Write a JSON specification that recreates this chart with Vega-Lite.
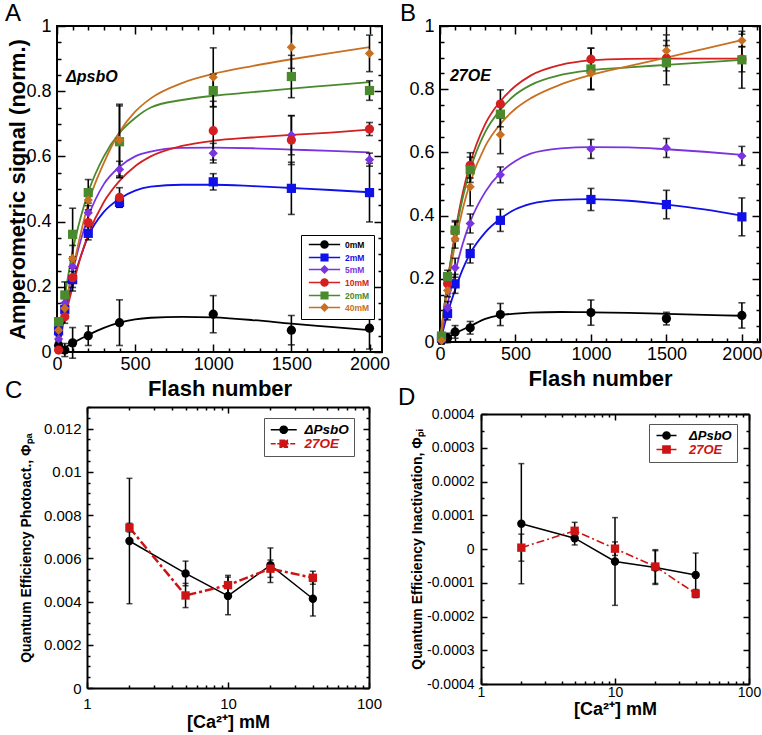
{
  "$schema": "https://vega.github.io/schema/vega-lite/v6.json",
  "padding": {"left": 4, "top": 1, "right": 2, "bottom": 2},
  "background": "white",
  "config": {
    "font": "Liberation Sans",
    "view": {"stroke": "black", "strokeWidth": 2},
    "axis": {"domain": false, "grid": false, "tickColor": "black", "labelColor": "black", "titleColor": "black", "labelFont": "Liberation Sans", "titleFont": "Liberation Sans", "tickWidth": 1.5, "labelFlush": false, "labelOverlap": false, "domainColor": "black", "domainWidth": 2},
    "title": {"font": "Liberation Sans", "fontWeight": "normal", "fontSize": 24, "anchor": "start", "frame": "group", "color": "black"},
    "legend": {"labelFont": "Liberation Sans"},
    "text": {"font": "Liberation Sans"}
  },
  "datasets": {
    "curvesA": [
      {"c":"0mM","f":0,"v":0},{"c":"0mM","f":100,"v":0.027},{"c":"0mM","f":200,"v":0.052},{"c":"0mM","f":300,"v":0.074},{"c":"0mM","f":400,"v":0.09},{"c":"0mM","f":500,"v":0.1},{"c":"0mM","f":600,"v":0.105},{"c":"0mM","f":800,"v":0.108},{"c":"0mM","f":1000,"v":0.106},{"c":"0mM","f":1250,"v":0.098},{"c":"0mM","f":1500,"v":0.087},{"c":"0mM","f":1750,"v":0.077},{"c":"0mM","f":2000,"v":0.067},
      {"c":"2mM","f":0,"v":0},{"c":"2mM","f":25,"v":0.065},{"c":"2mM","f":50,"v":0.12},{"c":"2mM","f":100,"v":0.215},{"c":"2mM","f":150,"v":0.29},{"c":"2mM","f":200,"v":0.355},{"c":"2mM","f":300,"v":0.43},{"c":"2mM","f":400,"v":0.47},{"c":"2mM","f":500,"v":0.495},{"c":"2mM","f":600,"v":0.507},{"c":"2mM","f":800,"v":0.513},{"c":"2mM","f":1000,"v":0.513},{"c":"2mM","f":1250,"v":0.509},{"c":"2mM","f":1500,"v":0.503},{"c":"2mM","f":1750,"v":0.497},{"c":"2mM","f":2000,"v":0.49},
      {"c":"5mM","f":0,"v":0},{"c":"5mM","f":25,"v":0.07},{"c":"5mM","f":50,"v":0.135},{"c":"5mM","f":100,"v":0.245},{"c":"5mM","f":150,"v":0.34},{"c":"5mM","f":200,"v":0.415},{"c":"5mM","f":300,"v":0.515},{"c":"5mM","f":400,"v":0.568},{"c":"5mM","f":500,"v":0.6},{"c":"5mM","f":600,"v":0.615},{"c":"5mM","f":800,"v":0.626},{"c":"5mM","f":1000,"v":0.627},{"c":"5mM","f":1250,"v":0.625},{"c":"5mM","f":1500,"v":0.621},{"c":"5mM","f":1750,"v":0.617},{"c":"5mM","f":2000,"v":0.612},
      {"c":"10mM","f":0,"v":0},{"c":"10mM","f":25,"v":0.055},{"c":"10mM","f":50,"v":0.105},{"c":"10mM","f":100,"v":0.2},{"c":"10mM","f":150,"v":0.29},{"c":"10mM","f":200,"v":0.36},{"c":"10mM","f":300,"v":0.46},{"c":"10mM","f":400,"v":0.525},{"c":"10mM","f":500,"v":0.57},{"c":"10mM","f":600,"v":0.6},{"c":"10mM","f":800,"v":0.632},{"c":"10mM","f":1000,"v":0.648},{"c":"10mM","f":1250,"v":0.658},{"c":"10mM","f":1500,"v":0.666},{"c":"10mM","f":1750,"v":0.673},{"c":"10mM","f":2000,"v":0.682},
      {"c":"20mM","f":0,"v":0},{"c":"20mM","f":25,"v":0.09},{"c":"20mM","f":50,"v":0.17},{"c":"20mM","f":100,"v":0.31},{"c":"20mM","f":150,"v":0.41},{"c":"20mM","f":200,"v":0.49},{"c":"20mM","f":300,"v":0.6},{"c":"20mM","f":400,"v":0.672},{"c":"20mM","f":500,"v":0.718},{"c":"20mM","f":600,"v":0.75},{"c":"20mM","f":800,"v":0.773},{"c":"20mM","f":1000,"v":0.786},{"c":"20mM","f":1250,"v":0.797},{"c":"20mM","f":1500,"v":0.808},{"c":"20mM","f":1750,"v":0.818},{"c":"20mM","f":2000,"v":0.828},
      {"c":"40mM","f":0,"v":0},{"c":"40mM","f":25,"v":0.07},{"c":"40mM","f":50,"v":0.135},{"c":"40mM","f":100,"v":0.25},{"c":"40mM","f":150,"v":0.36},{"c":"40mM","f":200,"v":0.455},{"c":"40mM","f":300,"v":0.58},{"c":"40mM","f":400,"v":0.675},{"c":"40mM","f":500,"v":0.737},{"c":"40mM","f":600,"v":0.778},{"c":"40mM","f":800,"v":0.825},{"c":"40mM","f":1000,"v":0.853},{"c":"40mM","f":1250,"v":0.877},{"c":"40mM","f":1500,"v":0.898},{"c":"40mM","f":1750,"v":0.917},{"c":"40mM","f":2000,"v":0.935}
    ],
    "ptsA": [
      {"c":"0mM","f":10,"v":0.02,"e":0.015},{"c":"0mM","f":50,"v":0.006,"e":0.02},{"c":"0mM","f":100,"v":0.028,"e":0.047},{"c":"0mM","f":200,"v":0.05,"e":0.03},{"c":"0mM","f":400,"v":0.09,"e":0.07},{"c":"0mM","f":1000,"v":0.116,"e":0.057},{"c":"0mM","f":1500,"v":0.067,"e":0.045},{"c":"0mM","f":2000,"v":0.073,"e":0.064},
      {"c":"2mM","f":10,"v":0.065,"e":0.01},{"c":"2mM","f":50,"v":0.13,"e":0.02},{"c":"2mM","f":100,"v":0.222,"e":0.035},{"c":"2mM","f":200,"v":0.364,"e":0.02},{"c":"2mM","f":400,"v":0.459,"e":0.015},{"c":"2mM","f":1000,"v":0.522,"e":0.025},{"c":"2mM","f":1500,"v":0.502,"e":0.08},{"c":"2mM","f":2000,"v":0.489,"e":0.09},
      {"c":"5mM","f":10,"v":0.04,"e":0.01},{"c":"5mM","f":50,"v":0.15,"e":0.02},{"c":"5mM","f":100,"v":0.262,"e":0.03},{"c":"5mM","f":200,"v":0.427,"e":0.03},{"c":"5mM","f":400,"v":0.56,"e":0.025},{"c":"5mM","f":1000,"v":0.61,"e":0.03},{"c":"5mM","f":1500,"v":0.665,"e":0.06},{"c":"5mM","f":2000,"v":0.59,"e":0.02},
      {"c":"10mM","f":10,"v":0.006,"e":0.005},{"c":"10mM","f":50,"v":0.108,"e":0.02},{"c":"10mM","f":100,"v":0.228,"e":0.03},{"c":"10mM","f":200,"v":0.397,"e":0.03},{"c":"10mM","f":400,"v":0.474,"e":0.03},{"c":"10mM","f":1000,"v":0.679,"e":0.09},{"c":"10mM","f":1500,"v":0.65,"e":0.075},{"c":"10mM","f":2000,"v":0.684,"e":0.02},
      {"c":"20mM","f":10,"v":0.093,"e":0.01},{"c":"20mM","f":50,"v":0.175,"e":0.04},{"c":"20mM","f":100,"v":0.361,"e":0.08},{"c":"20mM","f":200,"v":0.489,"e":0.04},{"c":"20mM","f":400,"v":0.645,"e":0.11},{"c":"20mM","f":1000,"v":0.802,"e":0.05},{"c":"20mM","f":1500,"v":0.845,"e":0.065},{"c":"20mM","f":2000,"v":0.802,"e":0.03},
      {"c":"40mM","f":10,"v":0.067,"e":0.01},{"c":"40mM","f":50,"v":0.134,"e":0.03},{"c":"40mM","f":100,"v":0.287,"e":0.04},{"c":"40mM","f":200,"v":0.466,"e":0.03},{"c":"40mM","f":400,"v":0.65,"e":0.11},{"c":"40mM","f":1000,"v":0.843,"e":0.09},{"c":"40mM","f":1500,"v":0.935,"e":0.065},{"c":"40mM","f":2000,"v":0.916,"e":0.056}
    ],
    "curvesB": [
      {"c":"0mM","f":0,"v":0},{"c":"0mM","f":50,"v":0.013},{"c":"0mM","f":100,"v":0.027},{"c":"0mM","f":200,"v":0.05},{"c":"0mM","f":300,"v":0.073},{"c":"0mM","f":400,"v":0.085},{"c":"0mM","f":500,"v":0.09},{"c":"0mM","f":600,"v":0.093},{"c":"0mM","f":800,"v":0.095},{"c":"0mM","f":1000,"v":0.094},{"c":"0mM","f":1250,"v":0.092},{"c":"0mM","f":1500,"v":0.089},{"c":"0mM","f":1750,"v":0.086},{"c":"0mM","f":2000,"v":0.083},
      {"c":"2mM","f":0,"v":0},{"c":"2mM","f":25,"v":0.045},{"c":"2mM","f":50,"v":0.09},{"c":"2mM","f":100,"v":0.165},{"c":"2mM","f":150,"v":0.23},{"c":"2mM","f":200,"v":0.28},{"c":"2mM","f":300,"v":0.347},{"c":"2mM","f":400,"v":0.39},{"c":"2mM","f":500,"v":0.42},{"c":"2mM","f":600,"v":0.437},{"c":"2mM","f":800,"v":0.45},{"c":"2mM","f":1000,"v":0.452},{"c":"2mM","f":1250,"v":0.447},{"c":"2mM","f":1500,"v":0.435},{"c":"2mM","f":1750,"v":0.42},{"c":"2mM","f":2000,"v":0.4},
      {"c":"5mM","f":0,"v":0},{"c":"5mM","f":25,"v":0.06},{"c":"5mM","f":50,"v":0.12},{"c":"5mM","f":100,"v":0.22},{"c":"5mM","f":150,"v":0.31},{"c":"5mM","f":200,"v":0.38},{"c":"5mM","f":300,"v":0.475},{"c":"5mM","f":400,"v":0.535},{"c":"5mM","f":500,"v":0.573},{"c":"5mM","f":600,"v":0.596},{"c":"5mM","f":800,"v":0.613},{"c":"5mM","f":1000,"v":0.617},{"c":"5mM","f":1250,"v":0.616},{"c":"5mM","f":1500,"v":0.61},{"c":"5mM","f":1750,"v":0.602},{"c":"5mM","f":2000,"v":0.592},
      {"c":"10mM","f":0,"v":0},{"c":"10mM","f":25,"v":0.1},{"c":"10mM","f":50,"v":0.19},{"c":"10mM","f":100,"v":0.345},{"c":"10mM","f":150,"v":0.47},{"c":"10mM","f":200,"v":0.565},{"c":"10mM","f":300,"v":0.69},{"c":"10mM","f":400,"v":0.762},{"c":"10mM","f":500,"v":0.81},{"c":"10mM","f":600,"v":0.843},{"c":"10mM","f":800,"v":0.877},{"c":"10mM","f":1000,"v":0.891},{"c":"10mM","f":1250,"v":0.896},{"c":"10mM","f":1500,"v":0.897},{"c":"10mM","f":1750,"v":0.897},{"c":"10mM","f":2000,"v":0.897},
      {"c":"20mM","f":0,"v":0},{"c":"20mM","f":25,"v":0.1},{"c":"20mM","f":50,"v":0.19},{"c":"20mM","f":100,"v":0.335},{"c":"20mM","f":150,"v":0.455},{"c":"20mM","f":200,"v":0.545},{"c":"20mM","f":300,"v":0.665},{"c":"20mM","f":400,"v":0.735},{"c":"20mM","f":500,"v":0.783},{"c":"20mM","f":600,"v":0.813},{"c":"20mM","f":800,"v":0.845},{"c":"20mM","f":1000,"v":0.86},{"c":"20mM","f":1250,"v":0.869},{"c":"20mM","f":1500,"v":0.877},{"c":"20mM","f":1750,"v":0.885},{"c":"20mM","f":2000,"v":0.893},
      {"c":"40mM","f":0,"v":0},{"c":"40mM","f":25,"v":0.09},{"c":"40mM","f":50,"v":0.17},{"c":"40mM","f":100,"v":0.31},{"c":"40mM","f":150,"v":0.42},{"c":"40mM","f":200,"v":0.505},{"c":"40mM","f":300,"v":0.62},{"c":"40mM","f":400,"v":0.69},{"c":"40mM","f":500,"v":0.738},{"c":"40mM","f":600,"v":0.771},{"c":"40mM","f":800,"v":0.815},{"c":"40mM","f":1000,"v":0.845},{"c":"40mM","f":1250,"v":0.873},{"c":"40mM","f":1500,"v":0.9},{"c":"40mM","f":1750,"v":0.928},{"c":"40mM","f":2000,"v":0.955}
    ],
    "ptsB": [
      {"c":"0mM","f":10,"v":0.005,"e":0.01},{"c":"0mM","f":50,"v":0.013,"e":0.015},{"c":"0mM","f":100,"v":0.032,"e":0.02},{"c":"0mM","f":200,"v":0.045,"e":0.02},{"c":"0mM","f":400,"v":0.087,"e":0.035},{"c":"0mM","f":1000,"v":0.093,"e":0.04},{"c":"0mM","f":1500,"v":0.074,"e":0.02},{"c":"0mM","f":2000,"v":0.084,"e":0.04},
      {"c":"2mM","f":10,"v":0.012,"e":0.01},{"c":"2mM","f":50,"v":0.09,"e":0.02},{"c":"2mM","f":100,"v":0.184,"e":0.03},{"c":"2mM","f":200,"v":0.28,"e":0.03},{"c":"2mM","f":400,"v":0.385,"e":0.035},{"c":"2mM","f":1000,"v":0.451,"e":0.035},{"c":"2mM","f":1500,"v":0.435,"e":0.045},{"c":"2mM","f":2000,"v":0.396,"e":0.06},
      {"c":"5mM","f":10,"v":0.01,"e":0.01},{"c":"5mM","f":50,"v":0.108,"e":0.02},{"c":"5mM","f":100,"v":0.235,"e":0.03},{"c":"5mM","f":200,"v":0.375,"e":0.03},{"c":"5mM","f":400,"v":0.529,"e":0.025},{"c":"5mM","f":1000,"v":0.611,"e":0.03},{"c":"5mM","f":1500,"v":0.614,"e":0.03},{"c":"5mM","f":2000,"v":0.589,"e":0.03},
      {"c":"10mM","f":10,"v":0.012,"e":0.01},{"c":"10mM","f":50,"v":0.184,"e":0.02},{"c":"10mM","f":100,"v":0.35,"e":0.03},{"c":"10mM","f":200,"v":0.559,"e":0.04},{"c":"10mM","f":400,"v":0.753,"e":0.045},{"c":"10mM","f":1000,"v":0.895,"e":0.035},{"c":"10mM","f":1500,"v":0.898,"e":0.04},{"c":"10mM","f":2000,"v":0.895,"e":0.04},
      {"c":"20mM","f":10,"v":0.019,"e":0.01},{"c":"20mM","f":50,"v":0.207,"e":0.02},{"c":"20mM","f":100,"v":0.354,"e":0.03},{"c":"20mM","f":200,"v":0.545,"e":0.04},{"c":"20mM","f":400,"v":0.721,"e":0.04},{"c":"20mM","f":1000,"v":0.864,"e":0.066},{"c":"20mM","f":1500,"v":0.884,"e":0.07},{"c":"20mM","f":2000,"v":0.893,"e":0.09},
      {"c":"40mM","f":10,"v":0.004,"e":0.01},{"c":"40mM","f":50,"v":0.163,"e":0.02},{"c":"40mM","f":100,"v":0.327,"e":0.03},{"c":"40mM","f":200,"v":0.491,"e":0.06},{"c":"40mM","f":400,"v":0.656,"e":0.06},{"c":"40mM","f":1000,"v":0.85,"e":0.05},{"c":"40mM","f":1500,"v":0.922,"e":0.05},{"c":"40mM","f":2000,"v":0.954,"e":0.02}
    ],
    "ptsC": [
      {"s":"ΔPsbO","ca":2,"v":0.0068,"e":0.0029},{"s":"ΔPsbO","ca":5,"v":0.0053,"e":0.00057},{"s":"ΔPsbO","ca":10,"v":0.00426,"e":0.00087},{"s":"ΔPsbO","ca":20,"v":0.00568,"e":0.0008},{"s":"ΔPsbO","ca":40,"v":0.00413,"e":0.0008},
      {"s":"27OE","ca":2,"v":0.00742,"e":0.0002},{"s":"27OE","ca":5,"v":0.00428,"e":0.00056},{"s":"27OE","ca":10,"v":0.00476,"e":0.00045},{"s":"27OE","ca":20,"v":0.00552,"e":0.0004},{"s":"27OE","ca":40,"v":0.0051,"e":0.0003}
    ],
    "ptsD": [
      {"s":"ΔPsbO","ca":2,"v":0.000075,"e":0.000178},{"s":"ΔPsbO","ca":5,"v":0.000032,"e":0.00002},{"s":"ΔPsbO","ca":10,"v":-0.000037,"e":0.00013},{"s":"ΔPsbO","ca":20,"v":-0.000055,"e":0.00005},{"s":"ΔPsbO","ca":40,"v":-0.000077,"e":0.000065},
      {"s":"27OE","ca":2,"v":0.000004,"e":0.00004},{"s":"27OE","ca":5,"v":0.000054,"e":0.000025},{"s":"27OE","ca":10,"v":0.000001,"e":0.00002},{"s":"27OE","ca":20,"v":-0.000052,"e":0.00005},{"s":"27OE","ca":40,"v":-0.000132,"e":0.000012}
    ]
  },
  "resolve": {"scale": {"color": "independent", "shape": "independent", "stroke": "independent"}},
  "spacing": -21,
  "vconcat": [
    {
      "spacing": 8,
      "resolve": {"scale": {"color": "independent", "shape": "independent", "stroke": "independent"}},
      "hconcat": [
        {
          "width": 325, "height": 326,
          "title": {"text": "A", "dx": -52, "offset": -9},
          "layer": [
            {
              "data": {"name": "curvesA"},
              "mark": {"type": "line", "interpolate": "monotone", "strokeWidth": 1.8},
              "encoding": {
                "x": {"field": "f", "type": "quantitative", "scale": {"domain": [0, 2080], "nice": false, "zero": false},
                      "axis": {"orient": "top", "values": [0,100,200,300,400,500,600,700,800,900,1000,1100,1200,1300,1400,1500,1600,1700,1800,1900,2000], "tickSize": {"condition": {"test": "datum.value % 500 === 0", "value": -8}, "value": -4}, "labels": false, "title": null}},
                "y": {"field": "v", "type": "quantitative", "scale": {"domain": [0, 1], "nice": false},
                      "axis": {"orient": "right", "values": [0,0.05,0.1,0.15,0.2,0.25,0.3,0.35,0.4,0.45,0.5,0.55,0.6,0.65,0.7,0.75,0.8,0.85,0.9,0.95,1], "tickSize": {"condition": {"test": "abs(datum.value*5-round(datum.value*5))<1e-6", "value": -8}, "value": -4}, "labels": false, "title": null}},
                "stroke": {"field": "c", "type": "nominal", "scale": {"domain": ["40mM","20mM","10mM","5mM","2mM","0mM"], "range": ["#c87020","#4a8a2c","#d42020","#7a33e0","#1010e8","#000000"]}, "legend": null}
              }
            },
            {
              "data": {"name": "ptsA"},
              "mark": {"type": "errorbar", "ticks": true, "size": 7, "thickness": 1.6, "color": "black"},
              "encoding": {
                "x": {"field": "f", "type": "quantitative", "axis": null},
                "y": {"field": "v", "type": "quantitative", "axis": null},
                "yError": {"field": "e"}
              }
            },
            {
              "data": {"name": "ptsA"},
              "mark": {"type": "point", "filled": true, "opacity": 1, "size": 85},
              "encoding": {
                "x": {"field": "f", "type": "quantitative",
                      "axis": {"orient": "bottom", "values": [0,100,200,300,400,500,600,700,800,900,1000,1100,1200,1300,1400,1500,1600,1700,1800,1900,2000], "tickSize": {"condition": {"test": "datum.value % 500 === 0", "value": -8}, "value": -4}, "labelExpr": "datum.value % 500 === 0 ? '' + datum.value : ''", "labelFontSize": 18, "labelPadding": 11, "title": "Flash number", "titleFontSize": 22, "titleFontWeight": "bold", "titleY": 26}},
                "y": {"field": "v", "type": "quantitative",
                      "axis": {"orient": "left", "values": [0,0.05,0.1,0.15,0.2,0.25,0.3,0.35,0.4,0.45,0.5,0.55,0.6,0.65,0.7,0.75,0.8,0.85,0.9,0.95,1], "tickSize": {"condition": {"test": "abs(datum.value*5-round(datum.value*5))<1e-6", "value": -8}, "value": -4}, "labelExpr": "abs(datum.value*5-round(datum.value*5))<1e-6 ? format(datum.value,'~g') : ''", "labelFontSize": 18, "labelPadding": 14, "title": "Amperometric signal (norm.)", "titleFontSize": 22, "titleFontWeight": "bold", "titleX": -28}},
                "color": {"field": "c", "type": "nominal", "scale": {"domain": ["0mM","2mM","5mM","10mM","20mM","40mM"], "range": ["#000000","#1010e8","#7a33e0","#d42020","#4a8a2c","#c87020"]},
                          "legend": {"title": null, "orient": "none", "legendX": 244, "legendY": 209, "strokeColor": "black", "fillColor": "white", "padding": 4, "labelFontSize": 8.5, "labelFontWeight": "bold", "symbolSize": 90, "symbolOffset": 14, "labelOffset": 15, "rowPadding": -2.4,
                                     "encoding": {
                                       "labels": {"fill": {"condition": [{"test": "datum.value === '2mM'", "value": "#1010e8"}, {"test": "datum.value === '5mM'", "value": "#7a33e0"}, {"test": "datum.value === '10mM'", "value": "#d42020"}, {"test": "datum.value === '20mM'", "value": "#4a8a2c"}, {"test": "datum.value === '40mM'", "value": "#c87020"}], "value": "#000000"}},
                                       "symbols": {
                                         "shape": {"condition": [{"test": "datum.value === '0mM' || datum.value === '10mM'", "value": "M-3.3,0H3.3M0.75,0A0.75,0.75,0,1,1,-0.75,0A0.75,0.75,0,1,1,0.75,0Z"}, {"test": "datum.value === '2mM' || datum.value === '20mM'", "value": "M-3.3,0H3.3M-0.7,-0.7H0.7V0.7H-0.7Z"}], "value": "M-3.3,0H3.3M0,-0.75L0.75,0L0,0.75L-0.75,0Z"},
                                         "stroke": {"condition": [{"test": "datum.value === '2mM'", "value": "#1010e8"}, {"test": "datum.value === '5mM'", "value": "#7a33e0"}, {"test": "datum.value === '10mM'", "value": "#d42020"}, {"test": "datum.value === '20mM'", "value": "#4a8a2c"}, {"test": "datum.value === '40mM'", "value": "#c87020"}], "value": "#000000"},
                                         "strokeWidth": {"value": 1.5},
                                         "opacity": {"value": 1}
                                       }
                                     }}},
                "shape": {"field": "c", "type": "nominal", "scale": {"domain": ["40mM","20mM","10mM","5mM","2mM","0mM"], "range": ["diamond","square","circle","diamond","square","circle"]}, "legend": null}
              }
            },
            {
              "data": {"values": [{"label": "ΔpsbO"}]},
              "mark": {"type": "text", "align": "left", "baseline": "middle", "fontSize": 16, "fontWeight": "bold", "fontStyle": "italic"},
              "encoding": {
                "x": {"datum": 58, "type": "quantitative", "axis": null},
                "y": {"datum": 0.845, "type": "quantitative", "axis": null},
                "text": {"field": "label"}
              }
            }
          ],
          "resolve": {"axis": {"x": "independent", "y": "independent"}}
        },
        {
          "width": 320, "height": 316,
          "title": {"text": "B", "dx": -40, "offset": -9},
          "layer": [
            {
              "data": {"name": "curvesB"},
              "mark": {"type": "line", "interpolate": "monotone", "strokeWidth": 1.8},
              "encoding": {
                "x": {"field": "f", "type": "quantitative", "scale": {"domain": [0, 2120], "nice": false, "zero": false},
                      "axis": {"orient": "top", "values": [0,100,200,300,400,500,600,700,800,900,1000,1100,1200,1300,1400,1500,1600,1700,1800,1900,2000,2100], "tickSize": {"condition": {"test": "datum.value % 500 === 0", "value": -8}, "value": -4}, "labels": false, "title": null}},
                "y": {"field": "v", "type": "quantitative", "scale": {"domain": [0, 1], "nice": false},
                      "axis": {"orient": "right", "values": [0,0.05,0.1,0.15,0.2,0.25,0.3,0.35,0.4,0.45,0.5,0.55,0.6,0.65,0.7,0.75,0.8,0.85,0.9,0.95,1], "tickSize": {"condition": {"test": "abs(datum.value*5-round(datum.value*5))<1e-6", "value": -8}, "value": -4}, "labels": false, "title": null}},
                "stroke": {"field": "c", "type": "nominal", "scale": {"domain": ["0mM","2mM","5mM","10mM","20mM","40mM"], "range": ["#000000","#1010e8","#7a33e0","#d42020","#4a8a2c","#c87020"]}, "legend": null}
              }
            },
            {
              "data": {"name": "ptsB"},
              "mark": {"type": "errorbar", "ticks": true, "size": 7, "thickness": 1.6, "color": "black"},
              "encoding": {
                "x": {"field": "f", "type": "quantitative", "axis": null},
                "y": {"field": "v", "type": "quantitative", "axis": null},
                "yError": {"field": "e"}
              }
            },
            {
              "data": {"name": "ptsB"},
              "mark": {"type": "point", "filled": true, "opacity": 1, "size": 85},
              "encoding": {
                "x": {"field": "f", "type": "quantitative",
                      "axis": {"orient": "bottom", "values": [0,100,200,300,400,500,600,700,800,900,1000,1100,1200,1300,1400,1500,1600,1700,1800,1900,2000,2100], "tickSize": {"condition": {"test": "datum.value % 500 === 0", "value": -8}, "value": -4}, "labelExpr": "datum.value % 500 === 0 ? '' + datum.value : ''", "labelFontSize": 18, "labelPadding": 11, "title": "Flash number", "titleFontSize": 22, "titleFontWeight": "bold", "titleY": 26}},
                "y": {"field": "v", "type": "quantitative",
                      "axis": {"orient": "left", "values": [0,0.05,0.1,0.15,0.2,0.25,0.3,0.35,0.4,0.45,0.5,0.55,0.6,0.65,0.7,0.75,0.8,0.85,0.9,0.95,1], "tickSize": {"condition": {"test": "abs(datum.value*5-round(datum.value*5))<1e-6", "value": -8}, "value": -4}, "labelExpr": "abs(datum.value*5-round(datum.value*5))<1e-6 ? format(datum.value,'~g') : ''", "labelFontSize": 18, "labelPadding": 14, "title": null}},
                "color": {"field": "c", "type": "nominal", "scale": {"domain": ["0mM","2mM","5mM","10mM","20mM","40mM"], "range": ["#000000","#1010e8","#7a33e0","#d42020","#4a8a2c","#c87020"]}, "legend": null},
                "shape": {"field": "c", "type": "nominal", "scale": {"domain": ["0mM","2mM","5mM","10mM","20mM","40mM"], "range": ["circle","square","diamond","circle","square","diamond"]}, "legend": null}
              }
            },
            {
              "data": {"values": [{"label": "27OE"}]},
              "mark": {"type": "text", "align": "left", "baseline": "middle", "fontSize": 16, "fontWeight": "bold", "fontStyle": "italic"},
              "encoding": {
                "x": {"datum": 66, "type": "quantitative", "axis": null},
                "y": {"datum": 0.843, "type": "quantitative", "axis": null},
                "text": {"field": "label"}
              }
            }
          ],
          "resolve": {"axis": {"x": "independent", "y": "independent"}}
        }
      ]
    },
    {
      "spacing": 16,
      "resolve": {"scale": {"color": "independent", "shape": "independent", "stroke": "independent"}},
      "hconcat": [
        {
          "width": 312, "height": 281,
          "view": {"stroke": null},
          "title": {"text": "C", "dx": -52, "offset": -3},
          "layer": [
            {
              "data": {"name": "ptsC"},
              "transform": [{"filter": "datum.s === 'ΔPsbO'"}],
              "mark": {"type": "line", "color": "black", "strokeWidth": 1.5},
              "encoding": {
                "x": {"field": "ca", "type": "quantitative", "scale": {"type": "log", "domain": [1, 100], "range": [30, 312], "nice": false},
                      "axis": {"orient": "top", "domain": true, "values": [1,2,3,4,5,6,7,8,9,10,20,30,40,50,60,70,80,90,100], "tickSize": {"condition": {"test": "indexof([1,10,100], datum.value) >= 0", "value": -6}, "value": -3}, "labels": false, "title": null}},
                "y": {"field": "v", "type": "quantitative", "scale": {"domain": [0, 0.013], "nice": false, "zero": false},
                      "axis": {"orient": "right", "domain": true, "values": [0,0.0005,0.001,0.0015,0.002,0.0025,0.003,0.0035,0.004,0.0045,0.005,0.0055,0.006,0.0065,0.007,0.0075,0.008,0.0085,0.009,0.0095,0.01,0.0105,0.011,0.0115,0.012,0.0125,0.013], "tickSize": {"condition": {"test": "abs(datum.value*500-round(datum.value*500))<1e-6", "value": -6}, "value": -3}, "labels": false, "title": null}}
              }
            },
            {
              "data": {"name": "ptsC"},
              "transform": [{"filter": "datum.s === '27OE'"}],
              "mark": {"type": "line", "color": "#cc1414", "strokeWidth": 2.5, "strokeDash": [9, 3, 3, 3]},
              "encoding": {
                "x": {"field": "ca", "type": "quantitative", "axis": null},
                "y": {"field": "v", "type": "quantitative", "axis": null}
              }
            },
            {
              "data": {"name": "ptsC"},
              "mark": {"type": "errorbar", "ticks": true, "size": 6, "thickness": 1.5, "color": "black"},
              "encoding": {
                "x": {"field": "ca", "type": "quantitative", "axis": null},
                "y": {"field": "v", "type": "quantitative", "axis": null},
                "yError": {"field": "e"}
              }
            },
            {
              "data": {"name": "ptsC"},
              "mark": {"type": "point", "filled": true, "opacity": 1, "size": 70},
              "encoding": {
                "x": {"field": "ca", "type": "quantitative",
                      "axis": {"orient": "bottom", "domain": true, "values": [1,2,3,4,5,6,7,8,9,10,20,30,40,50,60,70,80,90,100], "tickSize": {"condition": {"test": "indexof([1,10,100], datum.value) >= 0", "value": -6}, "value": -3}, "labelExpr": "indexof([1,10,100], datum.value) >= 0 ? '' + datum.value : ''", "labelFontSize": 15, "labelPadding": 14, "title": "[Ca²⁺]  mM", "titleFontSize": 18, "titleFontWeight": "bold", "titleY": 25}},
                "y": {"field": "v", "type": "quantitative",
                      "axis": {"orient": "left", "domain": true, "offset": -30, "values": [0,0.0005,0.001,0.0015,0.002,0.0025,0.003,0.0035,0.004,0.0045,0.005,0.0055,0.006,0.0065,0.007,0.0075,0.008,0.0085,0.009,0.0095,0.01,0.0105,0.011,0.0115,0.012,0.0125,0.013], "tickSize": {"condition": {"test": "abs(datum.value*500-round(datum.value*500))<1e-6", "value": -6}, "value": -3}, "labelExpr": "abs(datum.value*500-round(datum.value*500))<1e-6 ? format(datum.value,'.3~f') : ''", "labelFontSize": 15, "labelPadding": 12, "title": "Quantum Efficiency Photoact., Φₚₐ", "titleFontSize": 14, "titleFontWeight": "bold", "titleX": -54}},
                "color": {"field": "s", "type": "nominal", "scale": {"domain": ["ΔPsbO","27OE"], "range": ["#000000","#cc1414"]},
                          "legend": {"title": null, "orient": "none", "legendX": 207, "legendY": 11, "strokeColor": "#555555", "fillColor": "white", "padding": 5, "labelFontSize": 13.5, "labelFontWeight": "bold", "labelFontStyle": "italic", "symbolSize": 64, "symbolOffset": 8, "labelOffset": 14, "rowPadding": -1.5,
                                     "encoding": {
                                       "labels": {"fill": {"condition": {"test": "datum.value === '27OE'", "value": "#cc1414"}, "value": "#000000"}},
                                       "symbols": {
                                         "shape": {"condition": {"test": "datum.value === '27OE'", "value": "M-3.25,0H3.25M-0.9,-0.9H0.9V0.9H-0.9Z"}, "value": "M-3.25,0H3.25M0.9,0A0.9,0.9,0,1,1,-0.9,0A0.9,0.9,0,1,1,0.9,0Z"},
                                         "stroke": {"condition": {"test": "datum.value === '27OE'", "value": "#cc1414"}, "value": "#000000"},
                                         "strokeDash": {"condition": {"test": "datum.value === '27OE'", "value": [5, 1.5]}, "value": [1, 0]},
                                         "strokeWidth": {"value": 1.5},
                                         "opacity": {"value": 1}
                                       }
                                     }}},
                "shape": {"field": "s", "type": "nominal", "scale": {"domain": ["27OE","ΔPsbO"], "range": ["square","circle"]}, "legend": null}
              }
            }
          ],
          "resolve": {"axis": {"x": "independent", "y": "independent"}}
        },
        {
          "width": 268, "height": 277,
          "view": {"stroke": null},
          "title": {"text": "D", "dx": -83, "offset": -3},
          "layer": [
            {
              "data": {"name": "ptsD"},
              "transform": [{"filter": "datum.s === 'ΔPsbO'"}],
              "mark": {"type": "line", "color": "black", "strokeWidth": 1.5},
              "encoding": {
                "x": {"field": "ca", "type": "quantitative", "scale": {"type": "log", "domain": [1, 100], "nice": false},
                      "axis": {"orient": "top", "domain": true, "offset": -7, "values": [1,2,3,4,5,6,7,8,9,10,20,30,40,50,60,70,80,90,100], "tickSize": {"condition": {"test": "indexof([1,10,100], datum.value) >= 0", "value": -6}, "value": -3}, "labels": false, "title": null}},
                "y": {"field": "v", "type": "quantitative", "scale": {"domain": [-0.0004, 0.0004], "range": [277, 7], "nice": false, "zero": false},
                      "axis": {"orient": "right", "domain": true, "values": [-0.0004,-0.00035,-0.0003,-0.00025,-0.0002,-0.00015,-0.0001,-0.00005,0,0.00005,0.0001,0.00015,0.0002,0.00025,0.0003,0.00035,0.0004], "tickSize": {"condition": {"test": "abs(datum.value*10000-round(datum.value*10000))<1e-6", "value": -6}, "value": -3}, "labels": false, "title": null}}
              }
            },
            {
              "data": {"name": "ptsD"},
              "transform": [{"filter": "datum.s === '27OE'"}],
              "mark": {"type": "line", "color": "#cc1414", "strokeWidth": 1.6, "strokeDash": [8, 3, 2, 3]},
              "encoding": {
                "x": {"field": "ca", "type": "quantitative", "axis": null},
                "y": {"field": "v", "type": "quantitative", "axis": null}
              }
            },
            {
              "data": {"name": "ptsD"},
              "mark": {"type": "errorbar", "ticks": true, "size": 6, "thickness": 1.5, "color": "black"},
              "encoding": {
                "x": {"field": "ca", "type": "quantitative", "axis": null},
                "y": {"field": "v", "type": "quantitative", "axis": null},
                "yError": {"field": "e"}
              }
            },
            {
              "data": {"name": "ptsD"},
              "mark": {"type": "point", "filled": true, "opacity": 1, "size": 70},
              "encoding": {
                "x": {"field": "ca", "type": "quantitative",
                      "axis": {"orient": "bottom", "domain": true, "values": [1,2,3,4,5,6,7,8,9,10,20,30,40,50,60,70,80,90,100], "tickSize": {"condition": {"test": "indexof([1,10,100], datum.value) >= 0", "value": -6}, "value": -3}, "labelExpr": "indexof([1,10,100], datum.value) >= 0 ? '' + datum.value : ''", "labelFontSize": 14, "labelPadding": 7, "title": "[Ca²⁺]  mM", "titleFontSize": 18, "titleFontWeight": "bold", "titleY": 16}},
                "y": {"field": "v", "type": "quantitative",
                      "axis": {"orient": "left", "domain": true, "values": [-0.0004,-0.00035,-0.0003,-0.00025,-0.0002,-0.00015,-0.0001,-0.00005,0,0.00005,0.0001,0.00015,0.0002,0.00025,0.0003,0.00035,0.0004], "tickSize": {"condition": {"test": "abs(datum.value*10000-round(datum.value*10000))<1e-6", "value": -6}, "value": -3}, "labelExpr": "abs(datum.value*10000-round(datum.value*10000))<1e-6 ? (datum.value < -1e-9 ? '-' : '') + format(abs(datum.value),'.4~f') : ''", "labelFontSize": 14, "labelPadding": 13, "title": "Quantum Efficiency Inactivation, Φₚᵢ", "titleFontSize": 14, "titleFontWeight": "bold", "titleX": -57}},
                "color": {"field": "s", "type": "nominal", "scale": {"domain": ["ΔPsbO","27OE"], "range": ["#000000","#cc1414"]},
                          "legend": {"title": null, "orient": "none", "legendX": 168, "legendY": 17, "strokeColor": "#555555", "fillColor": "white", "padding": 5, "labelFontSize": 13, "labelFontWeight": "bold", "labelFontStyle": "italic", "symbolSize": 64, "symbolOffset": 6, "labelOffset": 16, "rowPadding": -1.5,
                                     "encoding": {
                                       "labels": {"fill": {"condition": {"test": "datum.value === '27OE'", "value": "#cc1414"}, "value": "#000000"}},
                                       "symbols": {
                                         "shape": {"condition": {"test": "datum.value === '27OE'", "value": "M-2.5,0H2.5M-0.9,-0.9H0.9V0.9H-0.9Z"}, "value": "M-2.5,0H2.5M0.9,0A0.9,0.9,0,1,1,-0.9,0A0.9,0.9,0,1,1,0.9,0Z"},
                                         "stroke": {"condition": {"test": "datum.value === '27OE'", "value": "#cc1414"}, "value": "#000000"},
                                         "strokeWidth": {"value": 1.5},
                                         "opacity": {"value": 1}
                                       }
                                     }}},
                "shape": {"field": "s", "type": "nominal", "scale": {"domain": ["27OE","ΔPsbO"], "range": ["square","circle"]}, "legend": null}
              }
            }
          ],
          "resolve": {"axis": {"x": "independent", "y": "independent"}}
        }
      ]
    }
  ]
}
